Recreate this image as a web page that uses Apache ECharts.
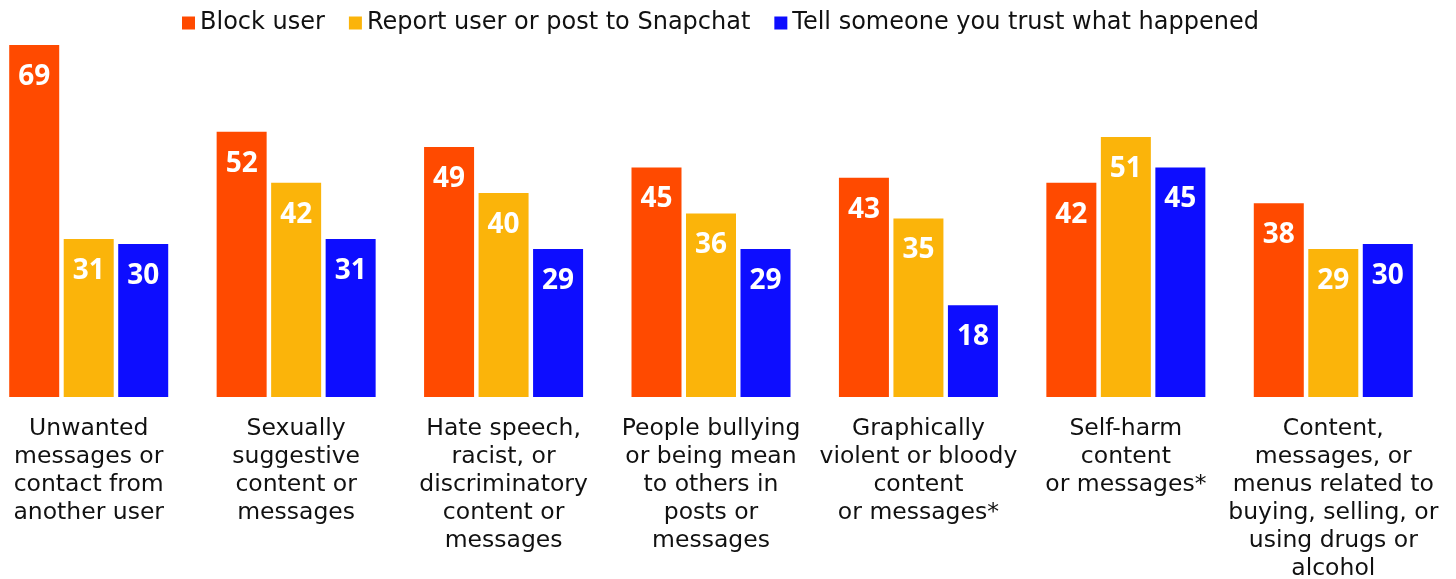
<!DOCTYPE html>
<html>
<head>
<meta charset="utf-8">
<script src="https://cdn.jsdelivr.net/npm/echarts@6/dist/echarts.min.js"></script>
<style>
  html, body { margin: 0; padding: 0; background: #fff; overflow: hidden; }
  /* chart sits slightly left of the page edge so the first group hugs the margin */
  #chart { width: 1471px; height: 579px; margin-left: -15px; }
</style>
</head>
<body>
<div id="chart"></div>
<script>
const categories = [
  "Unwanted\nmessages or\ncontact from\nanother user",
  "Sexually\nsuggestive\ncontent or\nmessages",
  "Hate speech,\nracist, or\ndiscriminatory\ncontent or\nmessages",
  "People bullying\nor being mean\nto others in\nposts or\nmessages",
  "Graphically\nviolent or bloody\ncontent\nor messages*",
  "Self-harm\ncontent\nor messages*",
  "Content,\nmessages, or\nmenus related to\nbuying, selling, or\nusing drugs or\nalcohol"
];
const seriesNames = ["Block user", "Report user or post to Snapchat", "Tell someone you trust what happened"];
const blockUser = [69, 52, 49, 45, 43, 42, 38];
const reportUser = [31, 42, 40, 36, 35, 51, 29];
const tellSomeone = [30, 31, 29, 29, 18, 45, 30];
const colors = ["#FF4A00", "#FBB40A", "#0D0DFF"];

const TEXT_FONT = "DejaVu Sans";
const NUM_FONT = "Noto Sans";
const chart = echarts.init(document.getElementById("chart"));

function barSeries(name, data, color) {
  return {
    name: name,
    type: "bar",
    data: data,
    barWidth: 50,
    barGap: "9%",
    itemStyle: { color: color },
    label: {
      show: true,
      position: "insideTop",
      distance: 18,
      color: "#fff",
      fontFamily: NUM_FONT,
      fontWeight: "bold",
      fontSize: 28
    }
  };
}

chart.setOption({
  animation: false,
  textStyle: { fontFamily: TEXT_FONT },
  legend: {
    top: 6,
    left: "center",
    itemWidth: 13,
    itemHeight: 13,
    itemGap: 24,
    icon: "rect",
    textStyle: { fontFamily: TEXT_FONT, fontSize: 24, color: "#111" },
    data: seriesNames
  },
  // fixed plot box; the long category labels may run to the bottom edge
  grid: { left: 0, right: 19, top: 40, height: 357, containLabel: false, outerBoundsMode: "none" },
  xAxis: {
    type: "category",
    data: categories,
    axisLine: { show: false },
    axisTick: { show: false },
    axisLabel: {
      interval: 0,
      margin: 18,
      color: "#111",
      fontFamily: TEXT_FONT,
      fontSize: 23.5,
      lineHeight: 28
    }
  },
  yAxis: {
    type: "value",
    min: 0,
    max: 70,
    show: false
  },
  series: [
    barSeries(seriesNames[0], blockUser, colors[0]),
    barSeries(seriesNames[1], reportUser, colors[1]),
    barSeries(seriesNames[2], tellSomeone, colors[2])
  ]
});
</script>
</body>
</html>
